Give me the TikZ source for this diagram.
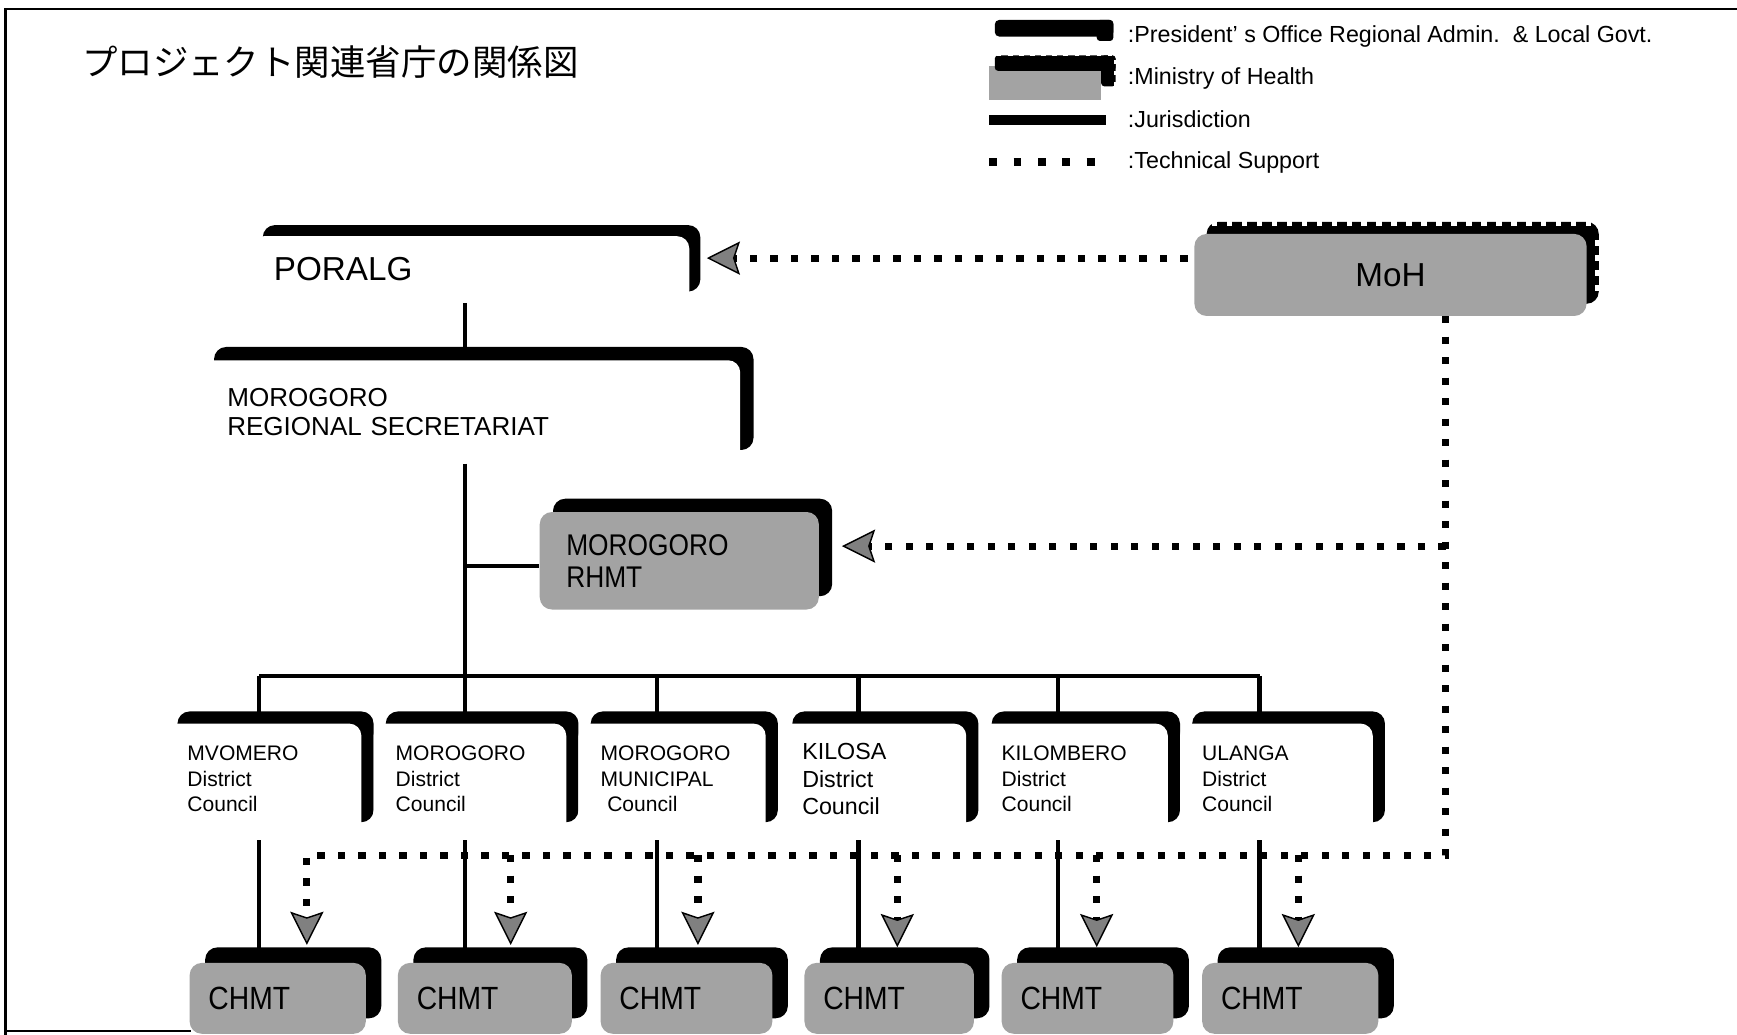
\documentclass[tikz,border=0pt]{standalone}
\usepackage{fontspec}
\setmainfont{Liberation Sans}
\newfontfamily\jpfont{Noto Sans CJK JP}
\newfontfamily\narrowfont[FakeStretch=0.88]{Liberation Sans}
\usetikzlibrary{shadows,arrows.meta}
\pgfdeclarelayer{bg}
\pgfsetlayers{bg,main}
\definecolor{texgray}{gray}{0.64}
\definecolor{tipgray}{gray}{0.5}
\begin{document}
\begin{tikzpicture}[x=1pt,y=-1pt,
  frontbox/.style={rectangle, rounded corners=11pt, anchor=north west, align=left, inner xsep=0pt, inner ysep=0pt},
  wbox/.style={frontbox, fill=white, general shadow={fill=black, shadow xshift=#1, shadow yshift=#1}},
  gbox/.style={frontbox, fill=texgray, general shadow={fill=black, shadow xshift=#1, shadow yshift=#1}},
  jur/.style={line width=4pt, black},
  tsline/.style={line width=6.5pt, dash pattern=on 6.5pt off 12pt, black},
  tsarrow/.style={tsline, -{Stealth[length=30pt,width=30pt,inset=5pt,fill=tipgray,line width=1.3pt]}},
  lgtext/.style={anchor=west, inner sep=0pt, font=\fontsize{21}{25}\selectfont},
  council/.style={wbox=11pt, minimum height=100pt, font=\fontsize{19}{23}\selectfont},
  chmtbox/.style={gbox=14pt, minimum height=64pt, font=\narrowfont\fontsize{29}{34}\selectfont},
]
\useasboundingbox (0,0) rectangle (1568,934);
% frame
\draw[line width=2pt] (5,934) -- (5,8) -- (1568,8);
\draw[line width=2pt] (5,931) -- (172,931);
% title
\node[anchor=west, inner sep=0pt, font=\jpfont\fontsize{32}{38}\selectfont] (title) at (74,56) {プロジェクト関連省庁の関係図};
% legend symbols
\fill[rounded corners=4pt] (898,18) rectangle (1005,33);
\fill[rounded corners=3pt] (990,18) rectangle (1005,37);
\fill[texgray] (893,60) rectangle (994,90);
\fill[rounded corners=3pt] (898,50) rectangle (1007,64);
\fill[rounded corners=3pt] (994,50) rectangle (1007,78);
\draw[white, line width=4pt, dash pattern=on 4pt off 6pt] (900,49) -- (1008,49);
\draw[white, line width=4pt, dash pattern=on 4pt off 6pt] (1008,54) -- (1008,80);
\fill (893,104) rectangle (998,113);
\draw[line width=7pt, dash pattern=on 7pt off 15pt] (893,146) -- (998,146);
\node[lgtext] (lg1) at (1018,33) {:President’ s Office Regional Admin.\ \ \& Local Govt.};
\node[lgtext] (lg2) at (1018,71) {:Ministry of Health};
\node[lgtext] (lg3) at (1018,108) {:Jurisdiction};
\node[lgtext] (lg4) at (1018,147) {:Technical Support};
% boxes
\node[wbox=10pt, minimum width=395pt, minimum height=60pt, text width=355pt, font=\fontsize{30}{36}\selectfont] (poralg) at (227,213) {PORALG};
\node[wbox=12pt, minimum width=487pt, minimum height=93pt, text width=439pt, font=\fontsize{23.5}{26}\selectfont] (sec) at (181,325) {MOROGORO\\REGIONAL SECRETARIAT};
\node[gbox=12pt, minimum width=252pt, minimum height=88pt, text width=204pt, font=\narrowfont\fontsize{27}{29}\selectfont] (rhmt) at (487,462) {MOROGORO\\RHMT};
\node[gbox=11pt, minimum width=354pt, minimum height=74pt, align=center, font=\fontsize{30}{36}\selectfont] (moh) at (1078,211) {MoH};
\draw[white, line width=8pt, dash pattern=on 5pt off 8.5pt] ([xshift=16pt,yshift=11pt]moh.north west) -- ([xshift=4pt,yshift=11pt]moh.north east);
\draw[white, line width=8pt, dash pattern=on 5pt off 8.5pt] ([xshift=11pt,yshift=-6pt]moh.north east) -- ([xshift=11pt,yshift=-60pt]moh.north east);
% councils
\node[council, minimum width=177pt, text width=137pt] (c1) at (149,653) {MVOMERO\\District\\Council};
\node[council, minimum width=174pt, text width=134pt] (c2) at (337,653) {MOROGORO\\District\\Council};
\node[council, minimum width=169pt, text width=129pt] (c3) at (522,653) {MOROGORO\\MUNICIPAL\\\hspace*{6pt}Council};
\node[council, minimum width=168pt, text width=128pt, font=\fontsize{21}{25}\selectfont] (c4) at (704,653) {KILOSA\\District\\Council};
\node[council, minimum width=170pt, text width=130pt] (c5) at (884,653) {KILOMBERO\\District\\Council};
\node[council, minimum width=174pt, text width=134pt] (c6) at (1065,653) {ULANGA\\District\\Council};
% CHMT
\node[chmtbox, minimum width=159pt, text width=125pt] (h1) at (171,869) {CHMT};
\node[chmtbox, minimum width=157pt, text width=123pt] (h2) at (359,869) {CHMT};
\node[chmtbox, minimum width=155pt, text width=121pt] (h3) at (542,869) {CHMT};
\node[chmtbox, minimum width=153pt, text width=119pt] (h4) at (726,869) {CHMT};
\node[chmtbox, minimum width=155pt, text width=121pt] (h5) at (904,869) {CHMT};
\node[chmtbox, minimum width=159pt, text width=125pt] (h6) at (1085,869) {CHMT};
% connectors
\begin{pgfonlayer}{bg}
\fill[white] (0,0) rectangle (1568,934);
\coordinate (bus) at (420,610);
\coordinate (busL) at (234,610);
\coordinate (busR) at (1137,610);
\coordinate (d3) at (593,610);
\coordinate (d4) at (775,610);
\coordinate (d5) at (955,610);
\coordinate (rb) at (420,511);
\coordinate (tsx) at (1305,0);
\coordinate (tby) at (0,772);
\coordinate (a1) at (277,853);
\coordinate (a2) at (461,853);
\coordinate (a3) at (630,853);
\coordinate (a4) at (810,855);
\coordinate (a5) at (990,855);
\coordinate (a6) at (1172,855);
\coordinate (rt) at (760,493);
\coordinate (pt) at (638,233);
% technical support
\draw[tsarrow, shorten <=6pt] (pt -| moh.west) -- (pt);
\draw[tsarrow] (rt -| tsx) -- (rt);
\draw[tsarrow] (moh.south -| tsx) -- (tsx |- tby) -- (tby -| a1) -- (a1);
\draw[tsarrow] (tby -| a2) -- (a2);
\draw[tsarrow] (tby -| a3) -- (a3);
\draw[tsarrow] (tby -| a4) -- (a4);
\draw[tsarrow] (tby -| a5) -- (a5);
\draw[tsarrow] (tby -| a6) -- (a6);
% jurisdiction
\draw[jur] (poralg.south -| bus) -- (sec.north -| bus);
\draw[jur] (sec.south -| bus) -- (bus);
\draw[jur] (rb) -- (rb -| rhmt.west);
\draw[jur] (busL) -- (busR);
\draw[jur] (busL) -- (busL |- c1.north);
\draw[jur] (bus) -- (bus |- c2.north);
\draw[jur] (d3) -- (d3 |- c3.north);
\draw[jur] (d4) -- (d4 |- c4.north);
\draw[jur] (d5) -- (d5 |- c5.north);
\draw[jur] (busR) -- (busR |- c6.north);
\draw[jur, shorten <=5pt] (c1.south -| busL) -- (h1.north -| busL);
\draw[jur, shorten <=5pt] (c2.south -| bus) -- (h2.north -| bus);
\draw[jur, shorten <=5pt] (c3.south -| d3) -- (h3.north -| d3);
\draw[jur, shorten <=5pt] (c4.south -| d4) -- (h4.north -| d4);
\draw[jur, shorten <=5pt] (c5.south -| d5) -- (h5.north -| d5);
\draw[jur, shorten <=5pt] (c6.south -| busR) -- (h6.north -| busR);
\end{pgfonlayer}
\end{tikzpicture}
\end{document}
